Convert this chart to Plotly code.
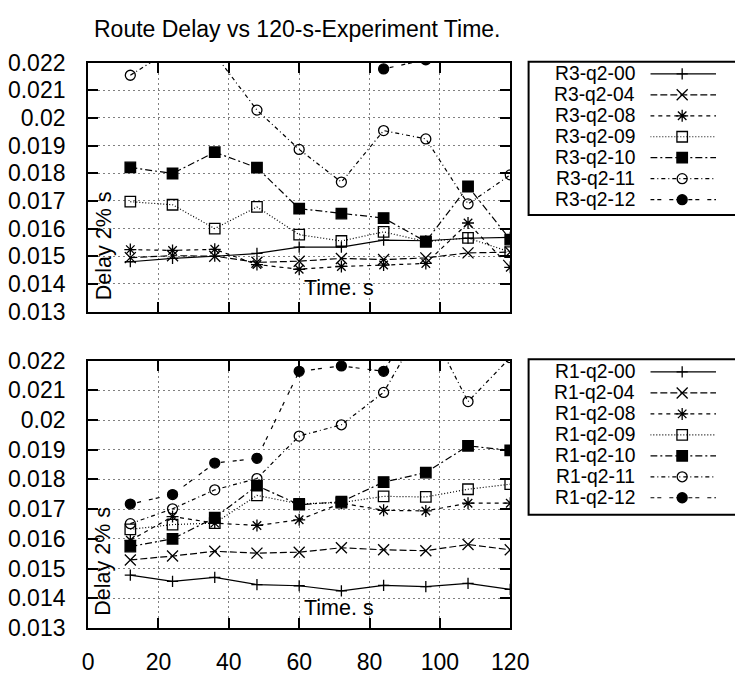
import plotly.graph_objects as go

# ---------------- data ----------------
x_time = [12, 24, 36, 48, 60, 72, 84, 96, 108, 120]

r3_names = ["R3-q2-00", "R3-q2-04", "R3-q2-08", "R3-q2-09", "R3-q2-10", "R3-q2-11", "R3-q2-12"]
r3_00 = [0.01480, 0.01492, 0.01500, 0.01510, 0.01533, 0.01533, 0.01558, 0.01556, 0.01565, 0.01568]
r3_04 = [0.01495, 0.01502, 0.01500, 0.01478, 0.01482, 0.01492, 0.01488, 0.01494, 0.01512, 0.01515]
r3_08 = [0.01524, 0.01521, 0.01525, 0.01470, 0.01453, 0.01463, 0.01468, 0.01474, 0.01620, 0.01460]
r3_09 = [0.01697, 0.01686, 0.01600, 0.01678, 0.01578, 0.01555, 0.01588, 0.01553, 0.01566, 0.01515]
r3_10 = [0.01821, 0.01799, 0.01876, 0.01820, 0.01672, 0.01654, 0.01638, 0.01553, 0.01752, 0.01560]
r3_11 = [0.02154, 0.02250, 0.02230, 0.02028, 0.01886, 0.01768, 0.01954, 0.01924, 0.01689, 0.01794]
r3_12 = [0.02550, 0.02620, 0.02580, 0.02560, 0.02540, 0.02530, 0.02177, 0.02210, 0.02500, 0.02550]

r1_names = ["R1-q2-00", "R1-q2-04", "R1-q2-08", "R1-q2-09", "R1-q2-10", "R1-q2-11", "R1-q2-12"]
r1_00 = [0.01478, 0.01457, 0.01470, 0.01446, 0.01442, 0.01425, 0.01443, 0.01439, 0.01450, 0.01430]
r1_04 = [0.01529, 0.01542, 0.01558, 0.01552, 0.01555, 0.01570, 0.01563, 0.01560, 0.01581, 0.01563]
r1_08 = [0.01595, 0.01675, 0.01653, 0.01645, 0.01664, 0.01720, 0.01696, 0.01694, 0.01720, 0.01720]
r1_09 = [0.01632, 0.01648, 0.01653, 0.01746, 0.01718, 0.01722, 0.01743, 0.01741, 0.01767, 0.01784]
r1_10 = [0.01574, 0.01600, 0.01671, 0.01779, 0.01715, 0.01725, 0.01791, 0.01823, 0.01913, 0.01898]
r1_11 = [0.01651, 0.01701, 0.01765, 0.01803, 0.01946, 0.01984, 0.02093, 0.02340, 0.02062, 0.02210]
r1_12 = [0.01717, 0.01749, 0.01855, 0.01871, 0.02164, 0.02182, 0.02164, 0.02400, 0.02620, 0.02580]

y_tickvals = [0.013, 0.014, 0.015, 0.016, 0.017, 0.018, 0.019, 0.020, 0.021, 0.022]
y_ticktext = ["0.013", "0.014", "0.015", "0.016", "0.017", "0.018", "0.019", "0.02", "0.021", "0.022"]
x_tickvals = [0, 20, 40, 60, 80, 100, 120]
x_ticktext = ["0", "20", "40", "60", "80", "100", "120"]

title_text = "Route Delay vs 120-s-Experiment Time."
ylabel_text = "Delay 2% s"
xlabel_text = "Time. s"

# ---------------- layout helpers ----------------
W, H = 735, 677
FONT = "Liberation Sans, Arial, Helvetica, sans-serif"
FS = 21.5        # in-plot labels
FS_TICK = 23     # tick labels and title
FS_KEY = 19.3    # key labels
ROW = 21.8       # key row pitch in pixels


def px(p):
    return p / W


def py(p):
    return 1 - p / H


styles = [
    dict(dash="solid", symbol="cross-thin-open", size=8),
    dict(dash="7px,3px", symbol="x-thin-open", size=11),
    dict(dash="4px,4px", symbol="asterisk-open", size=10),
    dict(dash="1px,2px", symbol="square-open", size=10.5),
    dict(dash="7px,3px,2px,3px", symbol="square", size=10.5),
    dict(dash="4px,3px,1px,3px", symbol="circle-open", size=10),
    dict(dash="4px,3px,4px,8px", symbol="circle", size=10),
]

fig = go.Figure()

panels = [
    (r3_names, [r3_00, r3_04, r3_08, r3_09, r3_10, r3_11, r3_12], "x", "y", "x3", "y3"),
    (r1_names, [r1_00, r1_04, r1_08, r1_09, r1_10, r1_11, r1_12], "x2", "y2", "x4", "y4"),
]

annotations = []
for names, series, xa, ya, lxa, lya in panels:
    for i, (nm, vals) in enumerate(zip(names, series)):
        st = styles[i]
        mk = dict(symbol=st["symbol"], size=st["size"], color="black",
                  line=dict(color="black", width=1.3))
        fig.add_trace(go.Scatter(
            x=x_time, y=vals, mode="lines+markers", name=nm,
            line=dict(color="black", width=1.2, dash=st["dash"]),
            marker=mk, xaxis=xa, yaxis=ya, showlegend=False))
        # custom key sample (text left, sample right, as in the original)
        fig.add_trace(go.Scatter(
            x=[0, 1.1], y=[i, i], mode="lines",
            line=dict(color="black", width=1.2, dash=st["dash"]),
            xaxis=lxa, yaxis=lya, showlegend=False, hoverinfo="skip"))
        fig.add_trace(go.Scatter(
            x=[0.485], y=[i], mode="markers", marker=mk, cliponaxis=False,
            xaxis=lxa, yaxis=lya, showlegend=False, hoverinfo="skip"))
        annotations.append(dict(
            text=nm, xref="paper", x=px(653), xanchor="right",
            yref=lya, y=i, yanchor="middle", showarrow=False,
            font=dict(family=FONT, size=FS_KEY, color="black")))

axis_common = dict(
    showline=True, linecolor="black", linewidth=2, mirror="allticks",
    ticks="inside", ticklen=10, tickwidth=2, tickcolor="black",
    showgrid=True, gridcolor="#808080", griddash="2px,3px", gridwidth=1,
    zeroline=False, tickfont=dict(family=FONT, size=FS_TICK, color="black"),
)

xdom = [px(85), px(522)]
top_dom = [py(310.5), py(51.5)]
bot_dom = [py(639.5), py(361.5)]


def key_dom(first_row_center):
    top = first_row_center - ROW / 2
    return [py(top + 7 * ROW), py(top)]


fig.update_layout(
    width=W, height=H,
    margin=dict(l=0, r=0, t=0, b=0),
    paper_bgcolor="white", plot_bgcolor="white",
    font=dict(family=FONT, size=FS, color="black"),
    xaxis=dict(axis_common, domain=xdom, range=[0, 120], tickvals=x_tickvals,
               ticktext=x_ticktext, showticklabels=False, anchor="y"),
    yaxis=dict(axis_common, domain=top_dom, range=[0.013, 0.022], tickvals=y_tickvals,
               ticktext=y_ticktext, anchor="x", ticklabelstandoff=16),
    xaxis2=dict(axis_common, domain=xdom, range=[0, 120], tickvals=x_tickvals,
                ticktext=x_ticktext, anchor="y2", ticklabelstandoff=12),
    yaxis2=dict(axis_common, domain=bot_dom, range=[0.013, 0.022], tickvals=y_tickvals,
                ticktext=y_ticktext, anchor="x2", ticklabelstandoff=16),
    xaxis3=dict(domain=[px(667), 1], range=[0, 1], visible=False, anchor="y3", fixedrange=True),
    yaxis3=dict(domain=key_dom(63.3), range=[6.5, -0.5], visible=False, anchor="x3", fixedrange=True),
    xaxis4=dict(domain=[px(667), 1], range=[0, 1], visible=False, anchor="y4", fixedrange=True),
    yaxis4=dict(domain=key_dom(373.3), range=[6.5, -0.5], visible=False, anchor="x4", fixedrange=True),
)

# key boxes
for top, bot in [(50.7, 210), (360, 521.7)]:
    fig.add_shape(type="rect", xref="paper", yref="paper",
                  x0=px(541), x1=1.05, y0=py(bot), y1=py(top),
                  line=dict(color="black", width=2), fillcolor="rgba(0,0,0,0)")

# title and axis labels (placed inside the plots as in the original)
annotations.append(dict(text=title_text, xref="paper", yref="paper", x=px(302), y=py(17),
                        xanchor="center", yanchor="middle", showarrow=False,
                        font=dict(family=FONT, size=FS_TICK, color="black")))
for yc in (242, 570):
    annotations.append(dict(text=ylabel_text, xref="paper", yref="paper", x=px(101), y=py(yc),
                            xanchor="center", yanchor="middle", textangle=-90, showarrow=False,
                            font=dict(family=FONT, size=FS, color="black")))
for yc in (286, 619):
    annotations.append(dict(text=xlabel_text, xref="paper", yref="paper", x=px(345), y=py(yc),
                            xanchor="center", yanchor="middle", showarrow=False,
                            font=dict(family=FONT, size=FS, color="black")))

fig.update_layout(annotations=annotations)
fig.write_html("out.html")
